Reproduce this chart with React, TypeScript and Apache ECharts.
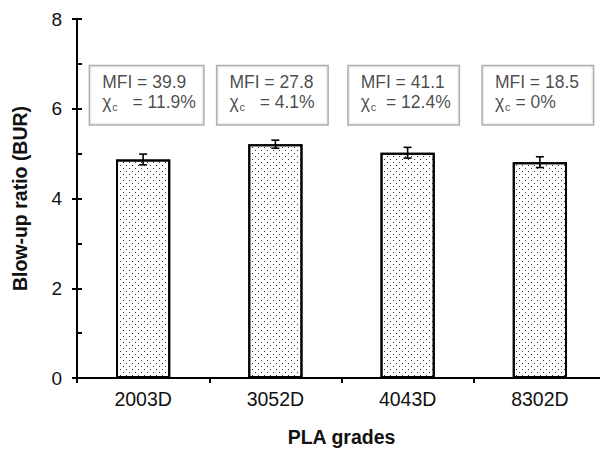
import React, { useEffect, useRef } from "react";
import * as echarts from "echarts";

// PLA grades and measured blow-up ratios
const grades = ["2003D", "3052D", "4043D", "8302D"];
const burValues = [4.87, 5.21, 5.02, 4.81];
const burErrors = [0.12, 0.09, 0.12, 0.12];

// Annotation contents per grade
const mfiValues = ["39.9", "27.8", "41.1", "18.5"];
const crystallinity = ["11.9%", "4.1%", "12.4%", "0%"];
const chiSpacing = ["  ", "  ", " ", ""];
const annotationLevel = 6.3;

const FONT = "'Liberation Sans', Arial, Helvetica, sans-serif";

// horizontal shift of each annotation box relative to its category centre
const boxShift = [-53, -58, -59, -57];

export default function App() {
  const ref = useRef<HTMLDivElement>(null);

  useEffect(() => {
    document.body.style.margin = "0";
    if (!ref.current) return;
    const chart = echarts.init(ref.current, null, { renderer: "svg" });

    const errorData = grades.map((_, i) => [i, burValues[i], burErrors[i]]);
    const noteData = grades.map((_, i) => ({
      value: [i, annotationLevel],
      label: {
        offset: [boxShift[i], 0],
        width: i === 0 ? 93 : 90,
        formatter:
          `{a|MFI = ${mfiValues[i]}}\n` +
          `{a|\u03c7}{b|c}{a|${chiSpacing[i]} = ${crystallinity[i]}}`,
      },
    }));

    chart.setOption({
      animation: false,
      textStyle: { fontFamily: FONT },
      grid: { left: 77, right: -6, top: 19, bottom: 71, outerBoundsMode: "none", containLabel: false },
      xAxis: [
        {
          type: "category",
          data: grades,
          position: "bottom",
          axisLine: { lineStyle: { color: "#000", width: 2 } },
          axisTick: { show: true, length: 5, lineStyle: { color: "#000", width: 2 } },
          axisLabel: { color: "#111", fontSize: 19.5, margin: 11, fontFamily: FONT },
          name: "PLA grades",
          nameLocation: "middle",
          nameGap: 49,
          nameTextStyle: { color: "#111", fontSize: 19.5, fontWeight: "bold", fontFamily: FONT },
        },
        {
          type: "category",
          data: grades,
          position: "top",
          axisLine: { lineStyle: { color: "#000", width: 2 } },
          axisTick: { show: false },
          axisLabel: { show: false },
        },
      ],
      yAxis: [
        {
          type: "value",
          min: 0,
          max: 8,
          interval: 2,
          position: "left",
          axisLine: { show: true, lineStyle: { color: "#000", width: 2 } },
          axisTick: { show: true, length: 5, lineStyle: { color: "#000", width: 2 } },
          axisLabel: { color: "#111", fontSize: 19, margin: 15, fontFamily: FONT },
          splitLine: { show: false },
          name: "Blow-up ratio (BUR)",
          nameLocation: "middle",
          nameRotate: 90,
          nameGap: 47,
          nameTextStyle: { color: "#111", fontSize: 19.5, fontWeight: "bold", fontFamily: FONT },
        },
        {
          type: "value",
          min: 0,
          max: 8,
          interval: 1,
          position: "left",
          axisLine: { show: false },
          axisTick: { show: true, inside: true, length: 5, lineStyle: { color: "#000", width: 2 } },
          axisLabel: { show: false },
          splitLine: { show: false },
        },
      ],
      series: [
        {
          type: "bar",
          data: burValues,
          barWidth: "41%",
          itemStyle: {
            color: "#fff",
            borderColor: "#000",
            borderWidth: 2,
            decal: {
              symbol: "rect",
              symbolSize: 1,
              color: "#333",
              dashArrayX: [
                [1, 5],
                [0, 3, 1, 2],
              ],
              dashArrayY: [1, 2],
              rotation: 0,
            },
          },
          z: 2,
        },
        {
          type: "custom",
          data: errorData,
          z: 3,
          renderItem: (params: any, api: any) => {
            const xi = api.value(0);
            const v = api.value(1);
            const e = api.value(2);
            const top = api.coord([xi, v + e]);
            const bot = api.coord([xi, v - e]);
            const cap = 4;
            const style = { stroke: "#000", lineWidth: 1.6 };
            return {
              type: "group",
              children: [
                { type: "line", shape: { x1: top[0], y1: top[1], x2: bot[0], y2: bot[1] }, style },
                { type: "line", shape: { x1: top[0] - cap, y1: top[1], x2: top[0] + cap, y2: top[1] }, style },
                { type: "line", shape: { x1: bot[0] - cap, y1: bot[1], x2: bot[0] + cap, y2: bot[1] }, style },
              ],
            };
          },
        },
        {
          type: "scatter",
          data: noteData,
          symbolSize: 0,
          z: 4,
          silent: true,
          label: {
            show: true,
            position: "inside",
            backgroundColor: "#fff",
            borderColor: "#9a9a9a",
            borderWidth: 1.5,
            padding: [6, 8, 12, 12],
            align: "left",
            rich: {
              a: { fontSize: 17.5, lineHeight: 20, color: "#1a1a1a", fontFamily: FONT },
              b: { fontSize: 11, lineHeight: 11, color: "#1a1a1a", padding: [9, 0, 0, 1], fontFamily: FONT },
            },
          },
        },
      ],
    });

    return () => chart.dispose();
  }, []);

  return <div ref={ref} style={{ width: 600, height: 449 }} />;
}
